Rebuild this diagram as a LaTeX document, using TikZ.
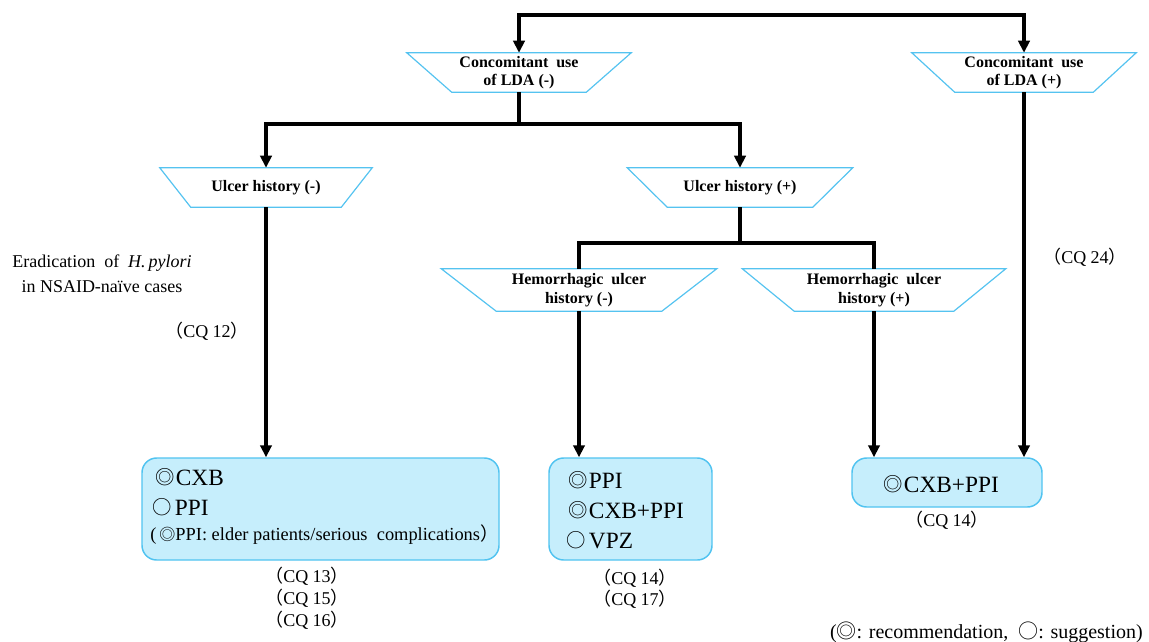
\documentclass[tikz,border=0pt]{standalone}
\usepackage{fontspec}
\setmainfont{Liberation Serif}
\newfontfamily\sym{Noto Sans CJK JP}
\newfontfamily\cjk{Noto Sans CJK JP}
\usetikzlibrary{arrows.meta}
\definecolor{trapblue}{RGB}{85,195,240}
\definecolor{boxfill}{RGB}{198,238,252}
\definecolor{boxline}{RGB}{80,195,240}
\newcommand{\dbl}{{\sym ◎}}
\newcommand{\sgl}{{\sym ○}}
\newcommand{\dblb}{\raisebox{0.5pt}{\fontsize{14.5}{16}\selectfont\sym ◎}\hspace{1pt}}
\newcommand{\sglb}{\raisebox{0.5pt}{\fontsize{14.5}{16}\selectfont\sym ○}\hspace{2.5pt}}
\newcommand{\lp}{{\cjk （}}
\newcommand{\rp}{{\cjk ）}}
\begin{document}
\begin{tikzpicture}[x=0.75pt,y=-0.75pt,
  trapline/.style={draw=trapblue,line width=0.9pt},
  trap/.style 2 args={minimum width=#1*0.75pt, minimum height=39*0.75pt, inner sep=0pt,
    align=center, font=\fontsize{12}{14}\selectfont\bfseries,
    append after command={\pgfextra{\draw[trapline] (\tikzlastnode.north west) -- (\tikzlastnode.north east)
      -- ([xshift=-#2*0.75pt]\tikzlastnode.south east) -- ([xshift=#2*0.75pt]\tikzlastnode.south west) -- cycle;}}},
  resbox/.style={draw=boxline, fill=boxfill, line width=1.1pt, rounded corners=11pt, inner sep=0pt},
  conn/.style={line width=2.7pt, line join=miter},
  arr/.style={conn, -{Triangle[length=9pt,width=8.5pt]}},
  big/.style={font=\fontsize{17.5}{20}\selectfont, inner sep=0pt, anchor=base west},
  cq/.style={font=\fontsize{13.5}{15}\selectfont, inner sep=0pt, anchor=base}]
\useasboundingbox (0,0) rectangle (1149,642);

% decision trapezoids
\node[trap={224}{45}] (ldam) at (519,72.5) {Concomitant\ \ use\\of LDA (-)};
\node[trap={224}{43}] (ldap) at (1024,72.5) {Concomitant\ \ use\\of LDA (+)};
\node[trap={212}{31}] (ulm) at (266,187.5) {Ulcer history\ (-)};
\node[trap={225}{40}] (ulp) at (740,187.5) {Ulcer history\ (+)};
\node[trap={275}{55},minimum height=42*0.75pt] (hemm) at (579,290) {Hemorrhagic\ \ ulcer\\history (-)};
\node[trap={263}{52},minimum height=42*0.75pt] (hemp) at (874,290) {Hemorrhagic\ \ ulcer\\history (+)};

% result boxes
\node[resbox, minimum width=357*0.75pt, minimum height=102*0.75pt] (b1) at (320.5,509) {};
\node[resbox, minimum width=163*0.75pt, minimum height=102*0.75pt] (b2) at (630.5,509) {};
\node[resbox, minimum width=190*0.75pt, minimum height=49*0.75pt] (b3) at (947,482.5) {};

% box texts
\node[big] (t1a) at (155,485) {\dblb CXB};
\node[big] (t1b) at (152,515) {\sglb PPI};
\node[font=\fontsize{13.8}{15}\selectfont, inner sep=0pt, anchor=base west] (t1c) at (150,540)
  {(\,{\fontsize{12}{13}\selectfont\sym ◎}PPI: elder patients/serious\ \ complications\rp};
\node[big] (t2a) at (568,488) {\dblb PPI};
\node[big] (t2b) at (568,518) {\dblb CXB+PPI};
\node[big] (t2c) at (566,548) {\sglb VPZ};
\node[big] (t3a) at (883,492) {\dblb CXB+PPI};

% connectors
\coordinate (topbar) at (770,15);
\draw[arr] (topbar) -| (ldam.north);
\draw[arr] (topbar) -| (ldap.north);
\coordinate (s1) at (519,124);
\draw[conn] (ldam.south) -- (s1);
\draw[arr] (s1) -| (ulm.north);
\draw[arr] (s1) -| (ulp.north);
\coordinate (s2) at (740,243);
\draw[conn] (ulp.south) -- (s2);
\draw[conn] (s2) -| (hemm.north);
\draw[conn] (s2) -| (hemp.north);
\draw[arr] (ulm.south) -- (ulm.south |- b1.north);
\draw[arr] (hemm.south) -- (hemm.south |- b2.north);
\draw[arr] (hemp.south) -- (hemp.south |- b3.north);
\draw[arr] (ldap.south) -- (ldap.south |- b3.north);

% labels
\node[font=\fontsize{13.5}{19}\selectfont, align=center, inner sep=0pt] (erad) at (102,274)
  {Eradication\ \ of\ \ \textit{H.\,pylori}\\in NSAID-naïve cases};
\node[cq] (cq12) at (207,337) {\lp CQ 12\rp};
\node[cq] (cq24) at (1085,263) {\lp CQ 24\rp};
\node[cq] (cq13) at (307,582) {\lp CQ 13\rp};
\node[cq] (cq15) at (307,604) {\lp CQ 15\rp};
\node[cq] (cq16) at (307,626) {\lp CQ 16\rp};
\node[cq] (cq14a) at (635,584) {\lp CQ 14\rp};
\node[cq] (cq17) at (635,605) {\lp CQ 17\rp};
\node[cq] (cq14b) at (947,526) {\lp CQ 14\rp};
\node[font=\fontsize{15}{17}\selectfont, anchor=base east, inner sep=0pt] (legend) at (1143,638)
  {(\dbl: recommendation,\ \ \sgl: suggestion)};
\end{tikzpicture}
\end{document}
